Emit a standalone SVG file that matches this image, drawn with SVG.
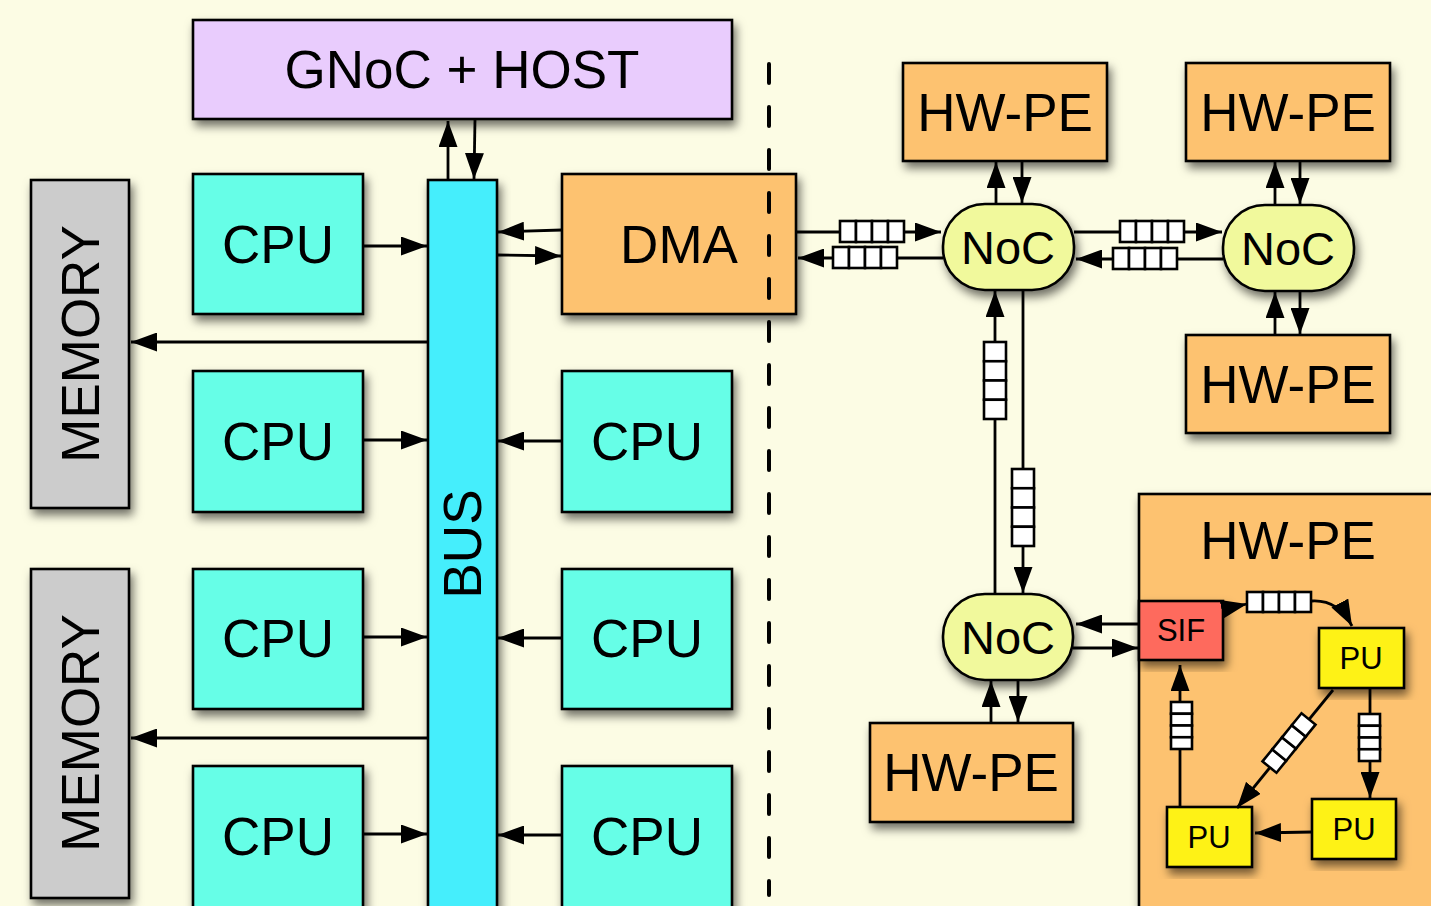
<svg xmlns="http://www.w3.org/2000/svg" width="1431" height="906" viewBox="0 0 1431 906">
  <defs>
    <filter id="shadow" x="-20%" y="-20%" width="140%" height="140%">
      <feDropShadow dx="3" dy="6" stdDeviation="5" flood-color="#000" flood-opacity="0.55"/>
    </filter>
    <marker id="arrow" markerUnits="userSpaceOnUse" markerWidth="26" markerHeight="19" refX="26" refY="9.5" orient="auto">
      <path d="M0,0 L26,9.5 L0,19 z" fill="#000"/>
    </marker>
    <!-- four-slot FIFO, horizontal (64 x 21) -->
    <g id="fifoH" fill="#FFF" stroke="#000" stroke-width="2.6">
      <rect x="0" y="0" width="16" height="21"/>
      <rect x="16" y="0" width="16" height="21"/>
      <rect x="32" y="0" width="16" height="21"/>
      <rect x="48" y="0" width="16" height="21"/>
    </g>
    <!-- four-slot FIFO, vertical (22 x 77) -->
    <g id="fifoV" fill="#FFF" stroke="#000" stroke-width="2.6">
      <rect x="0" y="0" width="22" height="19.25"/>
      <rect x="0" y="19.25" width="22" height="19.25"/>
      <rect x="0" y="38.5" width="22" height="19.25"/>
      <rect x="0" y="57.75" width="22" height="19.25"/>
    </g>
    <!-- small four-slot FIFO, vertical (21 x 47) -->
    <g id="fifoS" fill="#FFF" stroke="#000" stroke-width="2.6">
      <rect x="0" y="0" width="21" height="11.75"/>
      <rect x="0" y="11.75" width="21" height="11.75"/>
      <rect x="0" y="23.5" width="21" height="11.75"/>
      <rect x="0" y="35.25" width="21" height="11.75"/>
    </g>
    <!-- small four-slot FIFO, horizontal (64 x 20) -->
    <g id="fifoSH" fill="#FFF" stroke="#000" stroke-width="2.6">
      <rect x="0" y="0" width="16" height="20"/>
      <rect x="16" y="0" width="16" height="20"/>
      <rect x="32" y="0" width="16" height="20"/>
      <rect x="48" y="0" width="16" height="20"/>
    </g>
    <!-- slim four-slot FIFO for the diagonal link (62 x 18) -->
    <g id="fifoD" fill="#FFF" stroke="#000" stroke-width="2.6">
      <rect x="0" y="0" width="15.5" height="18"/>
      <rect x="15.5" y="0" width="15.5" height="18"/>
      <rect x="31" y="0" width="15.5" height="18"/>
      <rect x="46.5" y="0" width="15.5" height="18"/>
    </g>
  </defs>
  <style>
    .box { stroke: #000; stroke-width: 2.6; filter: url(#shadow); }
    .cpu { fill: #66FEE7; }
    .bus { fill: #45EEFC; }
    .host { fill: #E9CCFD; }
    .pe { fill: #FDC26F; }
    .noc { fill: #F1F99C; }
    .mem { fill: #CCCCCC; }
    .sif { fill: #FE6B5D; }
    .pu { fill: #FEF214; }
    text { font-family: "Liberation Sans", Arial, Helvetica, sans-serif; fill: #000; text-anchor: middle; }
    .big { font-size: 53px; }
    .nocl { font-size: 47px; }
    .small { font-size: 31px; }
    .link { stroke: #000; stroke-width: 2.8; fill: none; marker-end: url(#arrow); }
    .sep { stroke: #000; stroke-width: 4; stroke-linecap: round; stroke-dasharray: 19 24; fill: none; }
  </style>

  <rect x="0" y="0" width="1431" height="906" fill="#FCFCE4"/>

  <!-- host side -->
  <g id="host">
    <rect class="box host" x="193" y="20" width="539" height="99"/>
    <text class="big" x="462" y="88">GNoC + HOST</text>
  </g>
  <g id="memory1">
    <rect class="box mem" x="31" y="180" width="98" height="328"/>
    <text class="big" transform="translate(80,344) rotate(-90)" x="0" y="19">MEMORY</text>
  </g>
  <g id="memory2">
    <rect class="box mem" x="31" y="569" width="98" height="329"/>
    <text class="big" transform="translate(80,733) rotate(-90)" x="0" y="19">MEMORY</text>
  </g>
  <g id="bus">
    <rect class="box bus" x="428" y="180" width="69" height="740"/>
    <text class="big" transform="translate(462,544) rotate(-90)" x="0" y="19">BUS</text>
  </g>
  <g id="cpu1">
    <rect class="box cpu" x="193" y="174" width="170" height="140"/>
    <text class="big" x="278" y="263">CPU</text>
  </g>
  <g id="cpu2">
    <rect class="box cpu" x="193" y="371" width="170" height="141"/>
    <text class="big" x="278" y="460">CPU</text>
  </g>
  <g id="cpu3">
    <rect class="box cpu" x="193" y="569" width="170" height="140"/>
    <text class="big" x="278" y="657">CPU</text>
  </g>
  <g id="cpu4">
    <rect class="box cpu" x="193" y="766" width="170" height="160"/>
    <text class="big" x="278" y="855">CPU</text>
  </g>
  <g id="cpu5">
    <rect class="box cpu" x="562" y="371" width="170" height="141"/>
    <text class="big" x="647" y="460">CPU</text>
  </g>
  <g id="cpu6">
    <rect class="box cpu" x="562" y="569" width="170" height="140"/>
    <text class="big" x="647" y="657">CPU</text>
  </g>
  <g id="cpu7">
    <rect class="box cpu" x="562" y="766" width="170" height="160"/>
    <text class="big" x="647" y="855">CPU</text>
  </g>
  <g id="dma">
    <rect class="box pe" x="562" y="174" width="234" height="140"/>
    <text class="big" x="679" y="263">DMA</text>
  </g>

  <!-- accelerator side -->
  <g id="hwpe1">
    <rect class="box pe" x="903" y="63" width="204" height="98"/>
    <text class="big" x="1005" y="131">HW-PE</text>
  </g>
  <g id="hwpe2">
    <rect class="box pe" x="1186" y="63" width="204" height="98"/>
    <text class="big" x="1288" y="131">HW-PE</text>
  </g>
  <g id="hwpe3">
    <rect class="box pe" x="1186" y="335" width="204" height="98"/>
    <text class="big" x="1288" y="403">HW-PE</text>
  </g>
  <g id="hwpe4">
    <rect class="box pe" x="870" y="723" width="203" height="99"/>
    <text class="big" x="971" y="791">HW-PE</text>
  </g>
  <g id="noc1">
    <rect class="box noc" x="943" y="204" width="131" height="86" rx="42" ry="42"/>
    <text class="nocl" x="1008" y="264">NoC</text>
  </g>
  <g id="noc2">
    <rect class="box noc" x="1223" y="205" width="131" height="86" rx="42" ry="42"/>
    <text class="nocl" x="1288" y="265">NoC</text>
  </g>
  <g id="noc3">
    <rect class="box noc" x="943" y="594" width="130" height="86" rx="42" ry="42"/>
    <text class="nocl" x="1008" y="654">NoC</text>
  </g>
  <g id="hwpe5">
    <rect class="box pe" x="1139" y="494" width="310" height="440"/>
    <text class="big" x="1288" y="559">HW-PE</text>
  </g>
  <g id="sif">
    <rect class="box sif" x="1139" y="601" width="84" height="59"/>
    <text class="small" x="1181" y="641">SIF</text>
  </g>
  <g id="pu1">
    <rect class="box pu" x="1319" y="628" width="85" height="60"/>
    <text class="small" x="1361" y="669">PU</text>
  </g>
  <g id="pu2">
    <rect class="box pu" x="1312" y="799" width="84" height="60"/>
    <text class="small" x="1354" y="840">PU</text>
  </g>
  <g id="pu3">
    <rect class="box pu" x="1167" y="807" width="85" height="60"/>
    <text class="small" x="1209" y="848">PU</text>
  </g>

  <g id="connectors">
    <!-- host / bus -->
    <line class="link" x1="448" y1="180" x2="448" y2="121"/>
    <line class="link" x1="475" y1="119" x2="474" y2="179"/>
    <!-- CPUs to bus -->
    <line class="link" x1="363" y1="246" x2="427" y2="246"/>
    <line class="link" x1="363" y1="440" x2="427" y2="440"/>
    <line class="link" x1="363" y1="637" x2="427" y2="637"/>
    <line class="link" x1="363" y1="834" x2="427" y2="834"/>
    <line class="link" x1="562" y1="441" x2="498" y2="441"/>
    <line class="link" x1="562" y1="638" x2="498" y2="638"/>
    <line class="link" x1="562" y1="835" x2="498" y2="835"/>
    <!-- bus to memories -->
    <line class="link" x1="428" y1="342" x2="131" y2="342"/>
    <line class="link" x1="428" y1="738" x2="131" y2="738"/>
    <!-- DMA / bus -->
    <line class="link" x1="562" y1="230" x2="498" y2="232"/>
    <line class="link" x1="497" y1="255" x2="561" y2="256"/>
    <!-- DMA / NoC -->
    <line class="link" x1="796" y1="232" x2="941" y2="232"/>
    <line class="link" x1="943" y1="258" x2="798" y2="258"/>
    <!-- NoC / NoC -->
    <line class="link" x1="1074" y1="232" x2="1222" y2="232"/>
    <line class="link" x1="1223" y1="259" x2="1076" y2="259"/>
    <!-- NoC / HW-PE -->
    <line class="link" x1="996" y1="204" x2="996" y2="162"/>
    <line class="link" x1="1022" y1="161" x2="1022" y2="203"/>
    <line class="link" x1="1275" y1="205" x2="1275" y2="162"/>
    <line class="link" x1="1300" y1="161" x2="1300" y2="204"/>
    <line class="link" x1="1275" y1="335" x2="1275" y2="292"/>
    <line class="link" x1="1300" y1="291" x2="1300" y2="334"/>
    <line class="link" x1="991" y1="723" x2="991" y2="681"/>
    <line class="link" x1="1018" y1="680" x2="1018" y2="722"/>
    <!-- NoC / NoC vertical -->
    <line class="link" x1="995" y1="594" x2="995" y2="291"/>
    <line class="link" x1="1023" y1="290" x2="1023" y2="593"/>
    <!-- NoC / SIF -->
    <line class="link" x1="1139" y1="624" x2="1076" y2="624"/>
    <line class="link" x1="1073" y1="648" x2="1138" y2="648"/>
    <!-- inside the HW-PE -->
    <line class="link" x1="1223" y1="609" x2="1247" y2="604"/>
    <path class="link" d="M1312,601 C1330,600 1343,609 1352,626"/>
    <line class="link" x1="1370" y1="688" x2="1370" y2="798"/>
    <line class="link" x1="1333" y1="690" x2="1237" y2="808"/>
    <line class="link" x1="1312" y1="832" x2="1255" y2="833"/>
    <line class="link" x1="1180" y1="807" x2="1180" y2="665"/>
    <!-- FIFOs -->
    <g id="fifos">
      <use href="#fifoH" x="840" y="221"/>
      <use href="#fifoH" x="833" y="247"/>
      <use href="#fifoH" x="1120" y="221"/>
      <use href="#fifoH" x="1113" y="248"/>
      <use href="#fifoV" x="984" y="342"/>
      <use href="#fifoV" x="1012" y="469"/>
      <use href="#fifoSH" x="1247" y="592"/>
      <use href="#fifoS" x="1359" y="714"/>
      <use href="#fifoS" x="1171" y="702"/>
      <use href="#fifoD" x="1258" y="734" transform="rotate(-51 1289 743)"/>
    </g>
  </g>

  <!-- partition line between host and accelerator -->
  <g id="separator">
    <line class="sep" x1="769" y1="64" x2="769" y2="895"/>
  </g>
</svg>
